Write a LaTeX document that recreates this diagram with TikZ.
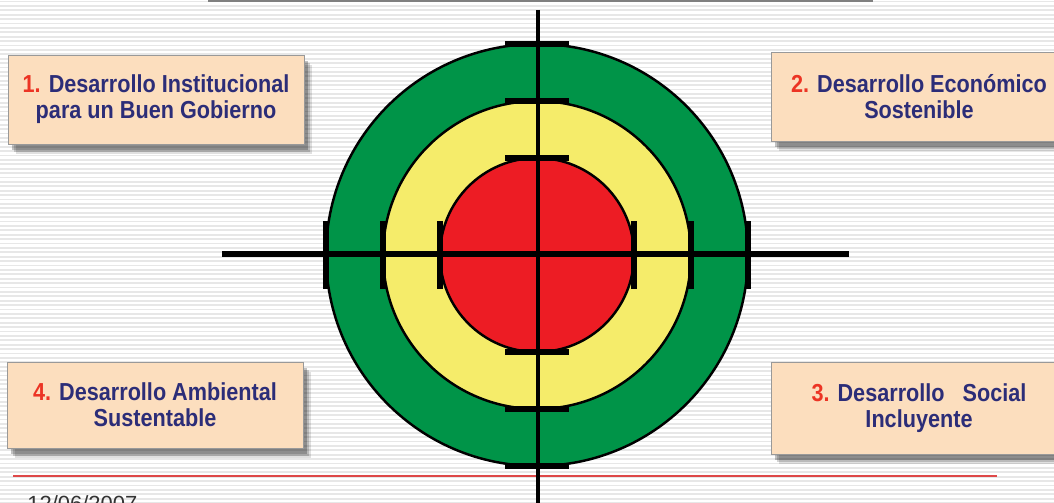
\documentclass[tikz,border=0pt]{standalone}
\usepackage{fontspec}
\setmainfont{Liberation Sans}
\newfontfamily\boxfont[FakeStretch=0.88]{Liberation Sans}
\usepackage{tikz}
\usetikzlibrary{shadows}
\usepackage{xcolor}
\definecolor{ringgreen}{RGB}{0,148,72}
\definecolor{ringyellow}{RGB}{245,236,106}
\definecolor{ringred}{RGB}{237,28,36}
\definecolor{navy}{RGB}{44,45,120}
\definecolor{numred}{RGB}{236,52,36}
\definecolor{peach}{RGB}{252,222,190}
\definecolor{stripe}{RGB}{231,231,231}
\definecolor{rulered}{RGB}{222,72,72}

\begin{document}
\begin{tikzpicture}[x=0.02cm, y=-0.02cm,
  ring/.style={circle, draw=black, line width=1.4pt, inner sep=0pt, outer sep=0pt},
  goal/.style={draw=gray!80, fill=peach, minimum width=5.92cm, minimum height=1.78cm,
     align=center, text=navy,
     font=\boxfont\bfseries\fontsize{14}{14.8}\selectfont,
     drop shadow={shadow xshift=0.16cm, shadow yshift=-0.20cm, fill=black, opacity=0.12},
     drop shadow={shadow xshift=0.12cm, shadow yshift=-0.16cm, fill=black, opacity=0.17},
     drop shadow={shadow xshift=0.08cm, shadow yshift=-0.12cm, fill=black, opacity=0.24}},
  tick/.style={line width=3.7pt},
  num/.style={text=numred}]

  \useasboundingbox (0,0) rectangle (1054,503);
  \clip (0,0) rectangle (1054,503);

  % striped background
  \fill[white] (0,0) rectangle (1054,503);
  \foreach \i in {0,...,114}
     \draw[stripe, line width=1pt] (0,1.5+4.4*\i) -- (1054,1.5+4.4*\i);
  \draw[gray, line width=1.2pt] (208,0.8) -- (873,0.8);
  \draw[rulered, line width=0.85pt] (13,476) -- (997,476);

  % target
  \node[ring, fill=ringgreen, minimum size=8.44cm] (outer) at (537,255) {};
  \node[ring, fill=ringyellow, minimum size=6.16cm] (middle) at (537,255) {};
  \node[ring, fill=ringred, minimum size=3.88cm] (inner) at (537,255) {};

  \foreach \r in {outer,middle,inner}{
     \draw[tick] (\r.north) ++(-32,0) -- ++(64,0);
     \draw[tick] (\r.south) ++(-32,0) -- ++(64,0);
     \draw[tick] (\r.west) ++(0,-34) -- ++(0,68);
     \draw[tick] (\r.east) ++(0,-34) -- ++(0,68);
  }

  \coordinate (axtop) at (538,10);
  \coordinate (axbot) at (538,510);
  \coordinate (axleft) at (222,254);
  \coordinate (axright) at (849,254);
  \draw[line width=2.9pt] (axleft) -- (axright);
  \draw[line width=1.9pt] (axtop) -- (axbot);

  % the four goals
  \node[goal] (g1) at (156,99.5)
       {{\color{numred}1.} Desarrollo Institucional\\para un Buen Gobierno};
  \node[goal] (g2) at (919,97)
       {{\color{numred}2.} Desarrollo Económico\\Sostenible};
  \node[goal, minimum height=1.84cm] (g3) at (919,408)
       {{\color{numred}3.} Desarrollo\ \ \ Social\\Incluyente};
  \node[goal, minimum height=1.72cm] (g4) at (155,405)
       {{\color{numred}4.} Desarrollo Ambiental\\Sustentable};

  \node[anchor=base west, inner sep=0pt, text=black!80,
        font=\fontsize{12.5}{14}\selectfont] (date) at (27,511) {12/06/2007};
\end{tikzpicture}
\end{document}
